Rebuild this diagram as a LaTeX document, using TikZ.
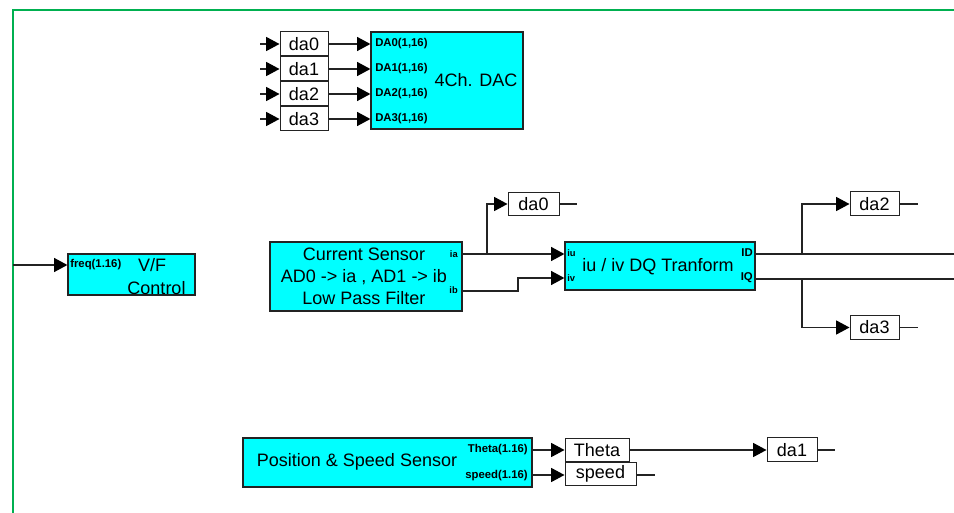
\documentclass[tikz,border=0pt]{standalone}
\usepackage{fontspec}
\setmainfont{Liberation Sans}
\usetikzlibrary{arrows.meta}
\definecolor{framegreen}{RGB}{0,176,80}
\definecolor{blk}{RGB}{0,255,255}
\definecolor{ln}{RGB}{35,35,35}
\begin{document}
\begin{tikzpicture}[x=0.75pt,y=-0.75pt,
  block/.style={draw=ln, line width=0.9pt, fill=blk, inner sep=0pt},
  tag/.style={draw=ln, line width=0.75pt, fill=white, inner sep=0pt, font=\fontsize{13.5}{15}\selectfont},
  wire/.style={draw=ln, line width=1pt},
  arr/.style={wire, -{Triangle[length=10pt,width=10.5pt,color=black]}},
  port/.style={inner sep=0pt, font=\fontsize{8.5}{10}\selectfont\bfseries},
  tiny/.style={inner sep=0pt, font=\fontsize{7}{8}\selectfont\bfseries},
  big/.style={inner sep=0pt, font=\fontsize{13.5}{16.5}\selectfont, align=center}]
\useasboundingbox (0,0) rectangle (954,513);
% frame
\coordinate (frTR) at (954,10);
\coordinate (frTL) at (13,10);
\coordinate (frBL) at (13,513);
\draw[framegreen, line width=1.6pt] (frTR) -- (frTL) -- (frBL);

% DAC
\node[block, minimum width=114pt, minimum height=72.75pt] (dac) at (447,80.5) {};
\node[big] (dactxt) at (476,80) {4Ch. DAC};
\foreach \i/\y in {0/44,1/69,2/94,3/119}{
  \node[tag, minimum width=36pt, minimum height=18pt] (da\i) at (304,\y) {da\i};
  \coordinate (in\i) at (260,\y);
  \draw[arr] (in\i) -- (da\i.west);
  \draw[arr] (da\i.east) -- (da\i.east -| dac.west);
  \node[port, anchor=west] (pDA\i) at (375,\y) {DA\i(1,16)};
}

% V/F control
\node[block, minimum width=95.25pt, minimum height=30.75pt] (vf) at (131.5,274.5) {};
\node[port, anchor=west] (pfreq) at (70,265) {freq(1.16)};
\node[big] (vft1) at (152,265) {V/F};
\node[big] (vft2) at (156.5,288) {Control};
\coordinate (fin) at (13,265);
\draw[arr] (fin) -- (fin -| vf.west);

% Current sensor
\node[block, minimum width=144pt, minimum height=51.75pt] (cs) at (366,276.5) {};
\node[big] (cst) at (364,276) {Current Sensor\\AD0 -> ia , AD1 -> ib\\Low Pass Filter};
\node[tiny, anchor=east] (pia) at (458,254) {ia};
\node[tiny, anchor=east] (pib) at (458,290) {ib};

% DQ transform
\node[block, minimum width=142.5pt, minimum height=36pt] (dq) at (660,266) {};
\node[big] (dqt) at (658,267) {iu / iv DQ Tranform};
\node[tiny, anchor=west] (piu) at (567,253) {iu};
\node[tiny, anchor=west] (piv) at (567,278) {iv};
\node[port, anchor=east] (pID) at (753,253) {ID};
\node[port, anchor=east] (pIQ) at (753,278) {IQ};

% tags around current sensor
\node[tag, minimum width=38.25pt, minimum height=17.25pt] (dam0) at (533.5,204) {da0};
\coordinate (yia) at (0,254);
\coordinate (yib) at (0,291);
\coordinate (yiv) at (0,278);
\coordinate (br1) at (487,254);
\coordinate (jb) at (518,0);
\draw[arr] (cs.east |- yia) -- (dq.west |- yia);
\draw[arr] (cs.east |- yib) -- (jb |- yib) -- (jb |- yiv) -- (dq.west |- yiv);
\draw[arr] (br1) |- (dam0.west);
\coordinate (t0) at (577,204);
\draw[wire] (dam0.east) -- (t0);

% outputs of DQ
\coordinate (yID) at (0,254);
\coordinate (yIQ) at (0,279);
\coordinate (rID) at (954,254);
\coordinate (rIQ) at (954,279);
\draw[wire] (dq.east |- yID) -- (rID);
\draw[wire] (dq.east |- yIQ) -- (rIQ);
\node[tag, minimum width=36.75pt, minimum height=18pt] (da2b) at (874.5,204) {da2};
\node[tag, minimum width=36.75pt, minimum height=18pt] (da3b) at (874.5,327.5) {da3};
\coordinate (brID) at (802,254);
\coordinate (brIQ) at (802,279);
\draw[arr] (brID) |- (da2b.west);
\draw[arr] (brIQ) |- (da3b.west);
\coordinate (t2) at (918,204);
\coordinate (t3) at (918,327.5);
\draw[wire] (da2b.east) -- (t2);
\draw[wire] (da3b.east) -- (t3);

% Position & speed sensor
\node[block, minimum width=216.75pt, minimum height=36.75pt] (ps) at (387.5,462.5) {};
\node[big] (pst) at (357,462) {Position \& Speed Sensor};
\node[port, anchor=east] (pth) at (528,450) {Theta(1.16)};
\node[port, anchor=east] (psp) at (528,476) {speed(1.16)};
\node[tag, minimum width=48pt, minimum height=17.25pt] (theta) at (597,450.5) {Theta};
\node[tag, minimum width=53.25pt, minimum height=16.5pt] (speed) at (600.5,474) {speed};
\coordinate (yth) at (0,450);
\coordinate (ysp) at (0,475);
\draw[arr] (ps.east |- yth) -- (theta.west |- yth);
\draw[arr] (ps.east |- ysp) -- (speed.west |- ysp);
\node[tag, minimum width=37.5pt, minimum height=18pt] (da1b) at (792,450) {da1};
\draw[arr] (theta.east |- yth) -- (da1b.west |- yth);
\coordinate (t1) at (835,450);
\coordinate (ts) at (655,475);
\draw[wire] (da1b.east) -- (t1);
\draw[wire] (speed.east |- ysp) -- (ts);
\end{tikzpicture}
\end{document}
